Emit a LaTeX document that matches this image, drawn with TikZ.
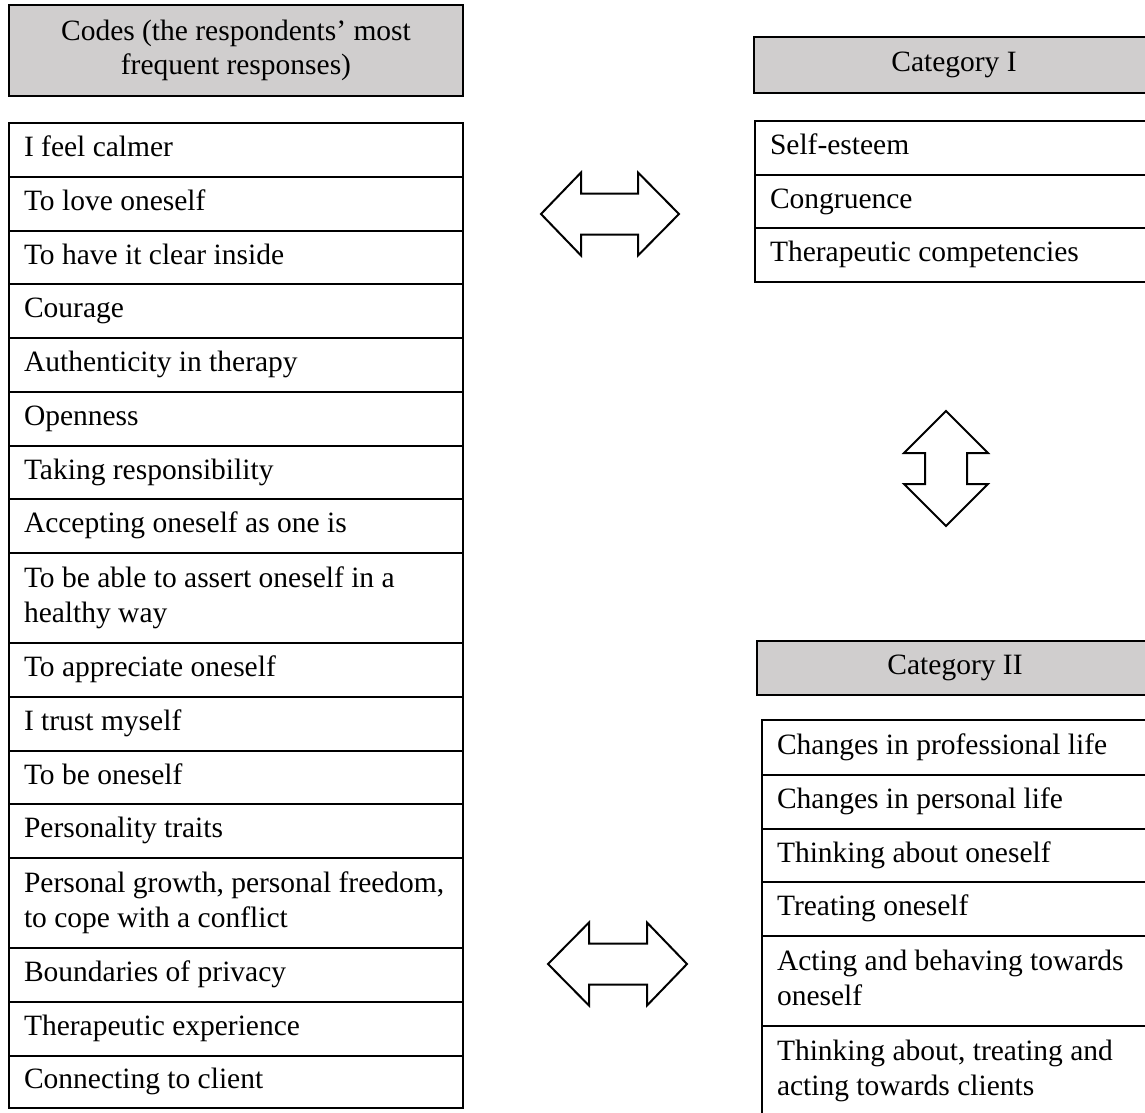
\documentclass[tikz,border=0pt]{standalone}
\usepackage{fontspec}
\setmainfont{Liberation Serif}
\definecolor{hdrgray}{RGB}{208,206,206}
\hyphenpenalty=10000
\exhyphenpenalty=10000
\newcommand\cellsetup{\spaceskip 0.25em\relax\xspaceskip 0.25em\relax\hyphenpenalty 10000\relax}
\begin{document}
\begin{tikzpicture}[x=1pt,y=-1pt,
  txt/.style={font=\fontsize{29.5}{34.5}\selectfont,
    execute at begin node={\cellsetup\strut}, execute at end node=\strut},
  cell/.style={txt, draw, line width=1.6pt, rectangle, anchor=north west,
    inner xsep=15pt, inner ysep=0pt, outer sep=0pt, align=left, text width=#1},
  hdr/.style={txt, draw, line width=2.2pt, fill=hdrgray, rectangle, anchor=north west,
    inner xsep=0pt, inner ysep=0pt, outer sep=0pt, align=center, text width=#1},
  blockarrow/.style={draw, line width=2pt, line join=miter, fill=white}]
\useasboundingbox (0,0) rectangle (1145,1112);

% ---------- left column ----------
\node[hdr=454, minimum height=91] (codes) at (9,5) {Codes (the respondents' most\\frequent responses)};

\node[cell=424, minimum height=54] (c1)  at (9,123) {I feel calmer};
\node[cell=424, minimum height=54] (c2)  at (9,177) {To love oneself};
\node[cell=424, minimum height=53] (c3)  at (9,231) {To have it clear inside};
\node[cell=424, minimum height=54] (c4)  at (9,284) {Courage};
\node[cell=424, minimum height=54] (c5)  at (9,338) {Authenticity in therapy};
\node[cell=424, minimum height=54] (c6)  at (9,392) {Openness};
\node[cell=424, minimum height=53] (c7)  at (9,446) {Taking responsibility};
\node[cell=424, minimum height=54] (c8)  at (9,499) {Accepting oneself as one is};
\node[cell=424, minimum height=90] (c9)  at (9,553) {\mbox{To be able to assert oneself in a}\\healthy way};
\node[cell=424, minimum height=54] (c10) at (9,643) {To appreciate oneself};
\node[cell=424, minimum height=54] (c11) at (9,697) {I trust myself};
\node[cell=424, minimum height=53] (c12) at (9,751) {To be oneself};
\node[cell=424, minimum height=54] (c13) at (9,804) {Personality traits};
\node[cell=424, minimum height=90] (c14) at (9,858) {\mbox{Personal growth, personal freedom,}\\to cope with a conflict};
\node[cell=424, minimum height=54] (c15) at (9,948) {Boundaries of privacy};
\node[cell=424, minimum height=54] (c16) at (9,1002) {Therapeutic experience};
\node[cell=424, minimum height=52] (c17) at (9,1056) {Connecting to client};

% ---------- Category I ----------
\node[hdr=400, minimum height=56] (cat1) at (754,37) {Category I};
\node[cell=370, minimum height=54] (k1) at (755,121) {Self-esteem};
\node[cell=370, minimum height=53] (k2) at (755,175) {Congruence};
\node[cell=370, minimum height=54] (k3) at (755,228) {Therapeutic competencies};

% ---------- Category II ----------
\node[hdr=396, minimum height=54] (cat2) at (757,641) {Category II};
\node[cell=363, minimum height=55] (m1) at (762,720) {Changes in professional life};
\node[cell=363, minimum height=54] (m2) at (762,775) {Changes in personal life};
\node[cell=363, minimum height=53] (m3) at (762,829) {Thinking about oneself};
\node[cell=363, minimum height=54] (m4) at (762,882) {Treating oneself};
\node[cell=363, minimum height=90] (m5) at (762,936) {\mbox{Acting and behaving towards}\\oneself};
\node[cell=363, minimum height=90] (m6) at (762,1026) {\mbox{Thinking about, treating and}\\acting towards clients};

% ---------- block arrows ----------
\draw[blockarrow, shift={(610,214)}]
  (-69,0) -- (-29,-41.5) -- (-29,-20.5) -- (28,-20.5) -- (28,-41.5) -- (69,0)
  -- (28,41.5) -- (28,20.5) -- (-29,20.5) -- (-29,41.5) -- cycle;
\draw[blockarrow, shift={(617.5,964)}]
  (-69.5,0) -- (-28.5,-41.5) -- (-28.5,-20.5) -- (29.5,-20.5) -- (29.5,-41.5) -- (69.5,0)
  -- (29.5,41.5) -- (29.5,20.5) -- (-28.5,20.5) -- (-28.5,41.5) -- cycle;
\draw[blockarrow, shift={(946,468.5)}]
  (0,-57.5) -- (42,-15.5) -- (21,-15.5) -- (21,15.5) -- (42,15.5) -- (0,57.5)
  -- (-42,15.5) -- (-21,15.5) -- (-21,-15.5) -- (-42,-15.5) -- cycle;
\end{tikzpicture}
\end{document}
